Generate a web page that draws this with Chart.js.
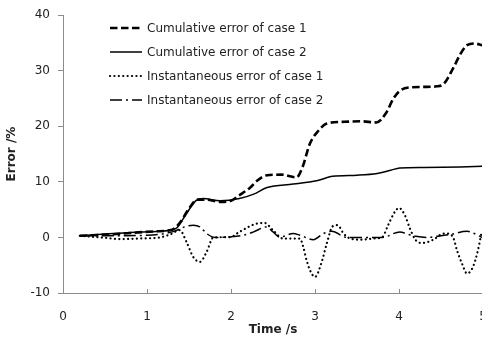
<!DOCTYPE html>
<html>
<head>
<meta charset="utf-8">
<script src="https://cdn.jsdelivr.net/npm/chart.js@4/dist/chart.umd.min.js"></script>
<style>
  html, body { margin: 0; padding: 0; background: #fff; overflow: hidden; width: 482px; height: 338px; }
  #wrap { position: absolute; left: 0; top: 0; width: 500px; height: 338px; }
</style>
</head>
<body>
<div id="wrap"><canvas id="c"></canvas></div>
<script>
// ---- data ----
const seriesNames = [
  "Cumulative error of case 1",
  "Cumulative error of case 2",
  "Instantaneous error of case 1",
  "Instantaneous error of case 2"
];
const xTicks = [0, 1, 2, 3, 4, 5];
const yTicks = [-10, 0, 10, 20, 30, 40];

const cum1Time = [0.2,0.5,0.8,1.1,1.3,1.4,1.5,1.6,1.7,1.87,2.0,2.1,2.23,2.31,2.43,2.6,2.78,2.85,2.94,3.04,3.14,3.33,3.55,3.73,3.85,3.93,4.01,4.13,4.3,4.45,4.53,4.65,4.73,4.81,4.9,4.99];
const cum1Err  = [0.3,0.5,0.8,1.1,1.4,2.8,5.2,6.8,6.8,6.4,6.6,7.6,9.0,10.2,11.2,11.3,10.8,12.6,16.9,19.2,20.5,20.8,20.9,20.7,22.5,24.9,26.4,27.0,27.1,27.2,27.6,30.6,33.0,34.6,34.9,34.6];

const cum2Time = [0.2,0.5,0.8,1.15,1.3,1.36,1.47,1.59,1.67,1.87,2.1,2.27,2.43,2.74,3.02,3.21,3.5,3.74,3.9,4.01,4.3,4.73,4.99];
const cum2Err  = [0.3,0.6,0.9,1.1,1.4,1.8,4.3,6.7,7.0,6.6,7.0,7.8,9.0,9.6,10.2,11.0,11.2,11.5,12.1,12.5,12.6,12.7,12.8];

const inst1Time = [0.2,0.45,0.68,0.9,1.15,1.27,1.39,1.47,1.55,1.63,1.71,1.79,1.99,2.1,2.31,2.4,2.5,2.62,2.82,2.86,2.9,2.94,3.0,3.08,3.14,3.21,3.27,3.34,3.42,3.55,3.69,3.8,3.87,3.95,4.0,4.07,4.13,4.2,4.28,4.41,4.53,4.59,4.65,4.69,4.75,4.81,4.88,4.94,4.98];
const inst1Err  = [0.3,0.0,-0.3,-0.2,0.0,0.5,1.3,-0.8,-3.5,-4.4,-2.6,0.0,0.05,1.0,2.5,2.6,1.3,-0.2,-0.2,-1.7,-4.1,-5.9,-7.1,-4.4,-1.1,2.0,2.2,0.7,-0.2,-0.4,-0.2,0.05,2.2,4.6,5.3,4.0,1.6,-0.5,-1.0,-0.4,0.7,0.7,-0.2,-2.3,-4.7,-6.5,-5.3,-2.3,0.7];

const inst2Time = [0.2,0.6,1.0,1.3,1.47,1.55,1.63,1.71,1.81,2.0,2.15,2.27,2.42,2.5,2.58,2.74,2.82,2.98,3.1,3.2,3.38,3.6,3.8,4.01,4.1,4.2,4.33,4.45,4.6,4.81,4.88,4.99];
const inst2Err  = [0.3,0.3,0.4,1.0,2.0,2.2,1.9,0.7,0.0,0.1,0.4,1.0,1.9,1.0,0.05,0.7,0.4,-0.4,0.7,1.1,0.0,0.0,0.0,1.0,0.6,0.2,0.0,0.2,0.5,1.1,0.8,0.0];

function pts(t, v) { return t.map((x, i) => ({ x: x, y: v[i] })); }

const FONT = "'DejaVu Sans', sans-serif";
const TEXT = '#222';

// legend drawn inside the plot area
const innerLegend = {
  id: 'innerLegend',
  afterDraw(chart) {
    const ctx = chart.ctx;
    const x0 = 110, x1 = 142, tx = 147;
    const ys = [28, 52, 76, 100];
    chart.data.datasets.forEach((ds, i) => {
      ctx.save();
      ctx.strokeStyle = ds.borderColor;
      ctx.lineWidth = ds.borderWidth;
      ctx.lineCap = ds.borderCapStyle || 'butt';
      ctx.setLineDash(ds.borderDash || []);
      ctx.beginPath();
      ctx.moveTo(x0, ys[i]);
      ctx.lineTo(x1, ys[i]);
      ctx.stroke();
      ctx.setLineDash([]);
      ctx.fillStyle = TEXT;
      ctx.font = "12px " + FONT;
      ctx.textBaseline = 'middle';
      ctx.fillText(ds.label, tx, ys[i] + 0.5);
      ctx.restore();
    });
  }
};

// short tick marks on the x axis pointing into the plot
const innerXTicks = {
  id: 'innerXTicks',
  afterDraw(chart) {
    const xs = chart.scales.x, ctx = chart.ctx;
    const b = chart.chartArea.bottom;
    ctx.save();
    ctx.strokeStyle = '#8c8c8c';
    ctx.lineWidth = 1;
    xTicks.forEach(v => {
      if (v === 0) return;
      const px = Math.round(xs.getPixelForValue(v)) + 0.5;
      ctx.beginPath();
      ctx.moveTo(px, b);
      ctx.lineTo(px, b - 4);
      ctx.stroke();
    });
    ctx.restore();
  }
};

new Chart(document.getElementById('c'), {
  type: 'line',
  data: {
    datasets: [
      { label: seriesNames[0], data: pts(cum1Time, cum1Err), borderColor: '#000', borderWidth: 2.6, borderDash: [7.5, 3.5] },
      { label: seriesNames[1], data: pts(cum2Time, cum2Err), borderColor: '#000', borderWidth: 1.5, borderDash: [] },
      { label: seriesNames[2], data: pts(inst1Time, inst1Err), borderColor: '#000', borderWidth: 2.2, borderDash: [0.1, 4.3], borderCapStyle: 'round' },
      { label: seriesNames[3], data: pts(inst2Time, inst2Err), borderColor: '#000', borderWidth: 1.5, borderDash: [12, 4, 2, 4] }
    ]
  },
  options: {
    responsive: true,
    maintainAspectRatio: false,
    animation: false,
    devicePixelRatio: 1,
    layout: { padding: { top: 15, right: 17, left: 0, bottom: 0 } },
    elements: {
      point: { radius: 0, hitRadius: 0 },
      line: { tension: 0.4, cubicInterpolationMode: 'monotone', fill: false }
    },
    plugins: { legend: { display: false }, tooltip: { enabled: false } },
    scales: {
      x: {
        type: 'linear', min: 0, max: 5,
        afterBuildTicks(s) { s.ticks = xTicks.map(v => ({ value: v })); },
        afterFit(s) { s.height = 45; s.paddingRight = 0; s.paddingLeft = 0; },
        ticks: { color: TEXT, font: { family: FONT, size: 12 }, padding: 17, maxRotation: 0 },
        grid: { drawOnChartArea: false, drawTicks: false },
        border: { color: '#8c8c8c', width: 1 },
        title: { display: true, text: 'Time /s', color: TEXT, font: { family: FONT, size: 12, weight: 'bold' }, padding: { top: 0, bottom: 1 } }
      },
      y: {
        type: 'linear', min: -10, max: 40,
        afterBuildTicks(s) { s.ticks = yTicks.map(v => ({ value: v })); },
        afterFit(s) { s.width = 63; },
        ticks: { color: TEXT, font: { family: FONT, size: 12 }, padding: 8 },
        grid: { drawOnChartArea: false, drawTicks: true, tickLength: 5, color: '#8c8c8c' },
        border: { color: '#8c8c8c', width: 1 },
        title: { display: true, text: 'Error /%', color: TEXT, font: { family: FONT, size: 12, weight: 'bold' }, padding: { top: 5, bottom: 0 } }
      }
    }
  },
  plugins: [innerLegend, innerXTicks]
});
</script>
</body>
</html>
